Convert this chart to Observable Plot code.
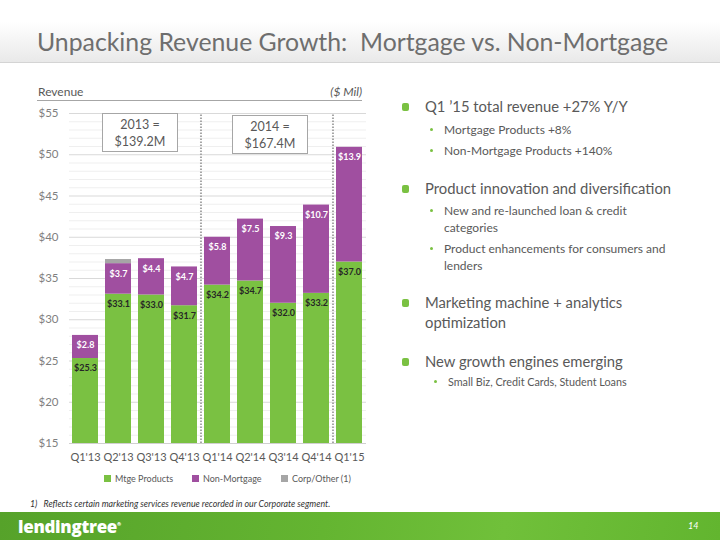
<!DOCTYPE html>
<html>
<head>
<meta charset="utf-8">
<script src="https://cdn.jsdelivr.net/npm/d3@7"></script>
<script src="https://cdn.jsdelivr.net/npm/@observablehq/plot@0.6"></script>
<style>
  html, body { margin: 0; padding: 0; }
  body { width: 720px; height: 540px; position: relative; overflow: hidden; background: #fff; font-family: Lato, "Open Sans", sans-serif; color: #595959; }
  .abs { position: absolute; white-space: nowrap; }
  #titlebar { position: absolute; left: 0; top: 22px; width: 720px; height: 40px; background: linear-gradient(#ffffff, #e9e9e9); border-bottom: 1px solid #d4d4d4; }
  #title { left: 37px; top: 27px; font-size: 24.8px; color: #6e6e6e; }
  .box { position: absolute; border: 1px solid #a6a6a6; background: #fff; text-align: center; font-size: 12.5px; line-height: 17px; color: #595959; padding-top: 2px; box-sizing: border-box; }
  .leg { position: absolute; top: 473px; font-size: 9px; color: #595959; }
  .leg i { display: inline-block; width: 7px; height: 7px; margin-right: 4px; vertical-align: 0px; }
  .b1 { position: absolute; left: 425px; font-size: 14.8px; color: #595959; }
  .sq { position: absolute; left: 402px; width: 7px; height: 8px; background: #7ac142; border-radius: 2px; }
  .b2 { position: absolute; left: 444px; font-size: 12px; color: #595959; }
  .dot { position: absolute; width: 3px; height: 3px; border-radius: 50%; background: #7ac142; }
  #footer { position: absolute; left: 0; top: 512px; width: 720px; height: 28px; background: linear-gradient(100deg, #56a22a 0%, #64b531 45%, #70c03a 70%, #62b52f 100%); }
</style>
</head>
<body>
<div id="titlebar"></div>
<div class="abs" id="title">Unpacking Revenue Growth:&nbsp; Mortgage vs. Non-Mortgage</div>

<div class="abs" style="left:38px; top:84px; font-size:12px; color:#595959;">Revenue</div>
<div class="abs" style="left:300px; width:62px; text-align:right; top:84px; font-size:12px; font-style:italic; color:#595959;">($ Mil)</div>
<div class="abs" style="left:37px; top:100px; width:325px; height:0; border-top:1px solid #a6a6a6;"></div>

<div id="chart" style="position:absolute; left:0; top:100px;"></div>

<div class="box" style="left:102px; top:113px; width:76px; height:39px;">2013 =<br>$139.2M</div>
<div class="box" style="left:232px; top:115px; width:76px; height:39px;">2014 =<br>$167.4M</div>

<div id="legend"></div>

<div class="abs" style="left:30px; top:498px; font-size:8.8px; font-style:italic; color:#333;">1)&nbsp;&nbsp; Reflects certain marketing services revenue recorded in our Corporate segment.</div>

<div id="footer">
  <div class="abs" style="left:18px; top:3px; font-size:17px; font-weight:900; color:#fff; letter-spacing:-0.3px; font-family:'Open Sans', sans-serif;">lendingtree<sup style="font-size:5px;">®</sup></div>
  <div class="abs" style="left:688px; top:8px; font-size:9px; font-style:italic; color:#fff;">14</div>
</div>

<div id="right"></div>

<script>
// ---- data ----
const quarters = ["Q1'13", "Q2'13", "Q3'13", "Q4'13", "Q1'14", "Q2'14", "Q3'14", "Q4'14", "Q1'15"];
const mortgage = [25.3, 33.1, 33.0, 31.7, 34.2, 34.7, 32.0, 33.2, 37.0];
const nonMortgage = [2.8, 3.7, 4.4, 4.7, 5.8, 7.5, 9.3, 10.7, 13.9];
const corpOther = [0, 0.5, 0, 0, 0, 0, 0, 0, 0];
const seriesNames = ["Mtge Products", "Non-Mortgage", "Corp/Other (1)"];
const seriesColors = ["#7ac142", "#a04fa0", "#a6a6a6"];
const yTicks = [15, 20, 25, 30, 35, 40, 45, 50, 55];
const yearStarts = ["Q1'14", "Q1'15"];

// ---- build table ----
const table = [];
quarters.forEach((q, i) => {
  table.push({q, s: seriesNames[0], v: mortgage[i]});
  table.push({q, s: seriesNames[1], v: nonMortgage[i]});
  if (corpOther[i] > 0) table.push({q, s: seriesNames[2], v: corpOther[i]});
});
const mtgeLabels = quarters.map((q, i) => ({q, top: mortgage[i], label: "$" + mortgage[i].toFixed(1)}));
const nonLabels = quarters.map((q, i) => ({q, top: mortgage[i] + nonMortgage[i], label: "$" + nonMortgage[i].toFixed(1)}));
const minorTicks = d3.range(yTicks[0], yTicks[yTicks.length - 1] + 1).filter(v => !yTicks.includes(v));

const W = 370, ML = 69, MR = 4, PI = 0.21, PO = 0.1;
const step = (W - ML - MR) / (quarters.length - PI + 2 * PO);

const chart = Plot.plot({
  width: W,
  height: 373,
  marginLeft: ML,
  marginRight: MR,
  marginTop: 13,
  marginBottom: 30,
  style: {fontFamily: "Lato, 'Open Sans', sans-serif", background: "transparent"},
  x: {domain: quarters, paddingInner: PI, paddingOuter: PO, label: null},
  y: {domain: [yTicks[0], yTicks[yTicks.length - 1]], clamp: true, label: null},
  color: {domain: seriesNames, range: seriesColors},
  marks: [
    Plot.ruleY(minorTicks, {stroke: "#efefef", strokeWidth: 1}),
    Plot.ruleY(yTicks.slice(1), {stroke: "#d9d9d9", strokeWidth: 1}),
    Plot.ruleY([yTicks[0]], {stroke: "#d0d0d0", strokeWidth: 1}),
    Plot.barY(table, {x: "q", y: "v", fill: "s", order: seriesNames}),
    Plot.ruleX(yearStarts, {x: d => d, dx: -step / 2, y1: yTicks[0], y2: yTicks[yTicks.length - 1], stroke: "#a6a6a6", strokeWidth: 2, strokeDasharray: "1.4,1.6"}),
    Plot.text(mtgeLabels, {x: "q", y: "top", text: "label", dy: 10, fill: "#262626", fontSize: 9, fontWeight: "bold"}),
    Plot.text(nonLabels, {x: "q", y: "top", text: "label", dy: 10, fill: "#ffffff", fontSize: 9, fontWeight: "bold"}),
    Plot.axisY({ticks: yTicks, tickFormat: d => "$" + d, tickSize: 0, tickPadding: 11, fontSize: 11.5, color: "#7f7f7f"}),
    Plot.axisX({tickSize: 0, tickPadding: 10, fontSize: 11, color: "#595959"})
  ]
});
document.getElementById("chart").appendChild(chart);

// ---- legend ----
const legPos = [104, 192, 281];
const legend = document.getElementById("legend");
seriesNames.forEach((n, i) => {
  const d = document.createElement("div");
  d.className = "leg";
  d.style.left = legPos[i] + "px";
  d.innerHTML = `<i style="background:${seriesColors[i]}"></i>${n}`;
  legend.appendChild(d);
});

// ---- right column ----
const rightItems = [
  {t: 1, y: 96, lines: ["Q1 \u201915 total revenue +27% Y/Y"]},
  {t: 2, y: 121, lines: ["Mortgage Products +8%"]},
  {t: 2, y: 142, lines: ["Non-Mortgage Products +140%"]},
  {t: 1, y: 178, lines: ["Product innovation and diversification"]},
  {t: 2, y: 202, lines: ["New and re-launched loan & credit", "categories"]},
  {t: 2, y: 240, lines: ["Product enhancements for consumers and", "lenders"]},
  {t: 1, y: 292, lines: ["Marketing machine + analytics", "optimization"]},
  {t: 1, y: 351, lines: ["New growth engines emerging"]},
  {t: 3, y: 374, lines: ["Small Biz, Credit Cards, Student Loans"]}
];
const right = document.getElementById("right");
rightItems.forEach(it => {
  if (it.t === 1) {
    const sq = document.createElement("div");
    sq.className = "sq"; sq.style.top = (it.y + 7) + "px";
    right.appendChild(sq);
    const d = document.createElement("div");
    d.className = "b1"; d.style.top = it.y + "px"; d.style.lineHeight = "20px";
    d.innerHTML = it.lines.join("<br>");
    right.appendChild(d);
  } else if (it.t === 2) {
    const dot = document.createElement("div");
    dot.className = "dot"; dot.style.left = "430px"; dot.style.top = (it.y + 7) + "px";
    right.appendChild(dot);
    const d = document.createElement("div");
    d.className = "b2"; d.style.top = it.y + "px"; d.style.lineHeight = "17px";
    d.innerHTML = it.lines.join("<br>");
    right.appendChild(d);
  } else {
    const dot = document.createElement("div");
    dot.className = "dot"; dot.style.left = "434px"; dot.style.top = (it.y + 6) + "px";
    right.appendChild(dot);
    const d = document.createElement("div");
    d.className = "b2"; d.style.left = "448px"; d.style.top = it.y + "px"; d.style.fontSize = "10.8px"; d.style.lineHeight = "15px";
    d.innerHTML = it.lines.join("<br>");
    right.appendChild(d);
  }
});
</script>
</body>
</html>
